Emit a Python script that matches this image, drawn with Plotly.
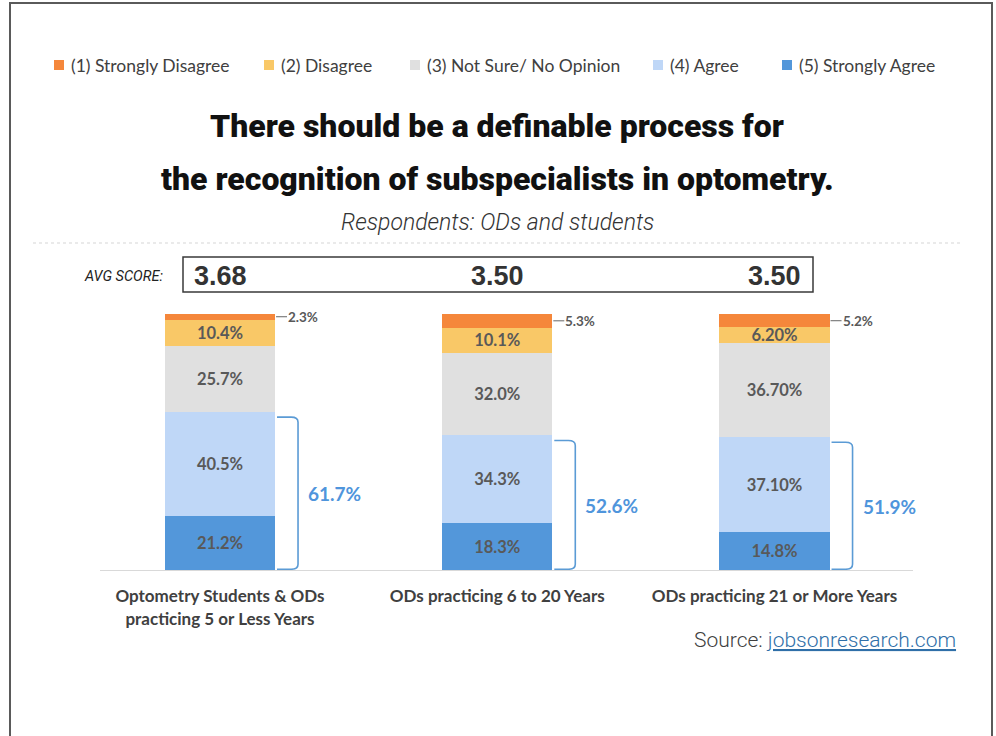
import plotly.graph_objects as go

# ---- data -------------------------------------------------------------
GROUPS = [
    "Optometry Students & ODs<br>practicing 5 or Less Years",
    "ODs practicing 6 to 20 Years",
    "ODs practicing 21 or More Years",
]
AVG_SCORES = ["3.68", "3.50", "3.50"]
RESPONSES = [
    "(1) Strongly Disagree",
    "(2) Disagree",
    "(3) Not Sure/ No Opinion",
    "(4) Agree",
    "(5) Strongly Agree",
]
# shares in percent, kept as the printed strings so labels keep their format
STRONGLY_DISAGREE = ["2.3", "5.3", "5.2"]
DISAGREE = ["10.4", "10.1", "6.20"]
NOT_SURE = ["25.7", "32.0", "36.70"]
AGREE = ["40.5", "34.3", "37.10"]
STRONGLY_AGREE = ["21.2", "18.3", "14.8"]

COLORS = ["#F5873B", "#F9C867", "#E0E0E0", "#BFD7F7", "#5397DA"]
SERIES = [STRONGLY_DISAGREE, DISAGREE, NOT_SURE, AGREE, STRONGLY_AGREE]

# ---- layout geometry (pixels) -----------------------------------------
W, H = 996, 736
L, R, T, B = 100, 913, 314, 570
XR = [-0.4328, 2.4995]
YR = [0, 100]
BW = 0.397
PX_X = (XR[1] - XR[0]) / (R - L)      # data units per pixel, x
PX_Y = (YR[1] - YR[0]) / (B - T)      # data units per pixel, y


def px(x):
    return (x - L) / (R - L)


def py(y):
    return (B - y) / (B - T)


BODY = "Lato, 'Open Sans', sans-serif"
LABEL_FONT = dict(family=BODY, size=16.5, color="#595959", weight="bold")
BLUE = "#4F95DC"

fig = go.Figure()
xs = list(range(len(GROUPS)))

# stacked bars, bottom to top: strongly agree ... strongly disagree
for k in reversed(range(len(RESPONSES))):
    vals = [float(v) for v in SERIES[k]]
    fig.add_trace(go.Bar(
        x=xs, y=vals, width=BW, name=RESPONSES[k],
        marker=dict(color=COLORS[k], line=dict(width=0)),
        text=[v + "%" for v in SERIES[k]] if k > 0 else None,
        textposition="inside" if k > 0 else "none",
        insidetextanchor="middle",
        textfont=LABEL_FONT,
        showlegend=False,
        hoverinfo="skip",
    ))

shapes = []
annotations = []

# small top segment labels with leader line
for i in xs:
    top = sum(float(s[i]) for s in SERIES)
    mid = top - float(STRONGLY_DISAGREE[i]) / 2
    x0 = i + BW / 2
    shapes.append(dict(type="line", xref="x", yref="y",
                       x0=x0 + 1 * PX_X, x1=x0 + 12 * PX_X, y0=mid, y1=mid,
                       line=dict(color="#7F7F7F", width=1.2)))
    annotations.append(dict(x=x0, y=mid, xref="x", yref="y", xanchor="left", yanchor="middle",
                            xshift=11, showarrow=False, text=STRONGLY_DISAGREE[i] + "%",
                            font=dict(family=BODY, size=13.5, color="#595959", weight="bold")))

# brackets for total agreement
for i in xs:
    agree_total = float(AGREE[i]) + float(STRONGLY_AGREE[i])
    xe = i + BW / 2 + 2 * PX_X
    xv = i + BW / 2 + 23 * PX_X
    rx = 7 * PX_X
    ry = 5 * PX_Y
    yt = agree_total - 2
    yb = 0.3
    path = (f"M {xe},{yt} L {xv - rx},{yt} Q {xv},{yt} {xv},{yt - ry} "
            f"L {xv},{yb + ry} Q {xv},{yb} {xv - rx},{yb} L {xe},{yb}")
    shapes.append(dict(type="path", xref="x", yref="y", path=path,
                       line=dict(color="#5B9BD5", width=1.6)))
    annotations.append(dict(x=xv, y=agree_total / 2 - 1, xref="x", yref="y",
                            xanchor="left", yanchor="middle", xshift=8, showarrow=False,
                            text=f"{agree_total:.1f}%",
                            font=dict(family=BODY, size=19, color=BLUE, weight="bold")))

# page frame
shapes.append(dict(type="rect", xref="paper", yref="paper",
                   x0=px(10), x1=px(992), y0=py(745), y1=py(3),
                   line=dict(color="#5A5A5A", width=2)))
# faint divider under the subtitle
shapes.append(dict(type="line", xref="paper", yref="paper",
                   x0=px(33), x1=px(962), y0=py(243), y1=py(243),
                   line=dict(color="#E4E4E4", width=1.5, dash="dot")))
# average score box
shapes.append(dict(type="rect", xref="paper", yref="paper",
                   x0=px(183), x1=px(813), y0=py(292), y1=py(257),
                   line=dict(color="#3A3A3A", width=1.5)))

# legend
LEG_X = [54, 264, 410, 653, 782]
for k, name in enumerate(RESPONSES):
    shapes.append(dict(type="rect", xref="paper", yref="paper",
                       x0=px(LEG_X[k]), x1=px(LEG_X[k] + 10), y0=py(70), y1=py(60),
                       fillcolor=COLORS[k], line=dict(width=0)))
    annotations.append(dict(x=px(LEG_X[k] + 15), y=py(65), xref="paper", yref="paper",
                            xanchor="left", yanchor="middle", showarrow=False, text=name,
                            font=dict(family=BODY, size=17.5, color="#404040")))

TITLE_FONT = dict(family="Roboto, Lato, sans-serif", size=32, color="#111111", weight=900)
annotations.append(dict(x=px(497), y=py(126), xref="paper", yref="paper", showarrow=False,
                        xanchor="center", yanchor="middle",
                        text="There should be a definable process for", font=TITLE_FONT))
annotations.append(dict(x=px(497), y=py(179), xref="paper", yref="paper", showarrow=False,
                        xanchor="center", yanchor="middle",
                        text="the recognition of subspecialists in optometry.", font=TITLE_FONT))
annotations.append(dict(x=px(497), y=py(222), xref="paper", yref="paper", showarrow=False,
                        xanchor="center", yanchor="middle",
                        text="<i>Respondents: ODs and students</i>",
                        font=dict(family="Roboto, sans-serif", size=23, color="#333333", weight=300)))

annotations.append(dict(x=px(165), y=py(276), xref="paper", yref="paper", showarrow=False,
                        xanchor="right", yanchor="middle", text="<i>AVG SCORE:</i>",
                        font=dict(family="Roboto, sans-serif", size=14.5, color="#222222")))
for i in xs:
    annotations.append(dict(x=i, y=py(276), xref="x", yref="paper", showarrow=False,
                            xanchor="center", yanchor="middle", text=AVG_SCORES[i],
                            font=dict(family="'Liberation Sans', Arial, sans-serif", size=27,
                                      color="#333333", weight="bold")))

annotations.append(dict(x=px(958), y=py(640), xref="paper", yref="paper", showarrow=False,
                        xanchor="right", yanchor="middle",
                        text="Source: <span style='color:#2F6FA8'><u>jobsonresearch.com</u></span>",
                        font=dict(family="Roboto, sans-serif", size=21, color="#404040", weight=300)))

fig.update_layout(
    width=W, height=H,
    margin=dict(l=L, r=W - R, t=T, b=H - B, pad=0),
    barmode="stack",
    plot_bgcolor="white", paper_bgcolor="white",
    shapes=shapes, annotations=annotations,
    uniformtext=dict(minsize=16.5, mode="show"),
    xaxis=dict(range=XR, tickvals=xs, ticktext=[f"<b>{g}</b>" for g in GROUPS],
               showgrid=False, zeroline=False, showline=True, linecolor="#D9D9D9", linewidth=1,
               ticks="", ticklabelstandoff=11,
               tickfont=dict(family=BODY, size=17, color="#404040")),
    yaxis=dict(range=YR, visible=False, showgrid=False, zeroline=False),
)

fig.write_html("out.html")
